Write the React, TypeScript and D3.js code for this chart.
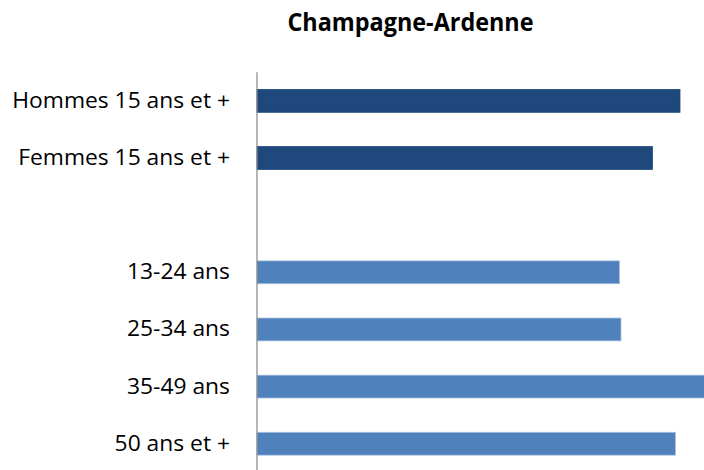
import React from "react";
import * as d3 from "d3";

const categories: string[] = [
  "Hommes 15 ans et +",
  "Femmes 15 ans et +",
  "",
  "13-24 ans",
  "25-34 ans",
  "35-49 ans",
  "50 ans et +",
];
const values: (number | null)[] = [84.6, 79.1, null, 72.5, 72.8, 91.0, 83.7];
const seriesGroup: string[] = ["sexe", "sexe", "", "age", "age", "age", "age"];
const title = "Champagne-Ardenne";

const W = 704;
const H = 470;
const colors: Record<string, string> = { sexe: "#1F497D", age: "#4F81BD" };
const strokes: Record<string, string> = { sexe: "#1F497D", age: "#A9C1E0" };

export default function App() {
  const keys = categories.map((c, i) => `${i}|${c}`);
  const y = d3
    .scaleBand<string>()
    .domain(keys)
    .range([72.3, 472.3])
    .paddingInner(0.6)
    .paddingOuter(0.3);
  const x = d3.scaleLinear().domain([0, 100]).range([257, 757]);
  const font = "'Open Sans', 'DejaVu Sans', sans-serif";

  return (
    <svg
      width={W}
      height={H}
      style={{ position: "absolute", left: 0, top: 0, background: "#fff" }}
    >
      <rect x={0} y={0} width={W} height={H} fill="#fff" />
      <text
        transform={`translate(410.5, 31) scale(0.955, 1)`}
        textAnchor="middle"
        fontFamily={font}
        fontWeight="bold"
        fontSize={24.5}
        fill="#000"
      >
        {title}
      </text>
      {keys.map((k, i) => {
        const v = values[i];
        if (v == null) return null;
        const yy = y(k)!;
        return (
          <rect
            key={k}
            x={x(0)}
            y={yy}
            width={x(v) - x(0)}
            height={y.bandwidth()}
            fill={colors[seriesGroup[i]]}
            stroke={strokes[seriesGroup[i]]}
            strokeWidth={0.8}
          />
        );
      })}
      {keys.map((k, i) => {
        if (!categories[i]) return null;
        const cy = y(k)! + y.bandwidth() / 2;
        return (
          <text
            key={"l" + k}
            transform={`translate(230, ${cy + 7}) scale(1.062, 1)`}
            textAnchor="end"
            fontFamily={font}
            fontSize={21.5}
            fill="#000"
          >
            {categories[i]}
          </text>
        );
      })}
      <line
        x1={x(0)}
        x2={x(0)}
        y1={y.range()[0]}
        y2={y.range()[1]}
        stroke="#868686"
        strokeWidth={1.2}
      />
    </svg>
  );
}
